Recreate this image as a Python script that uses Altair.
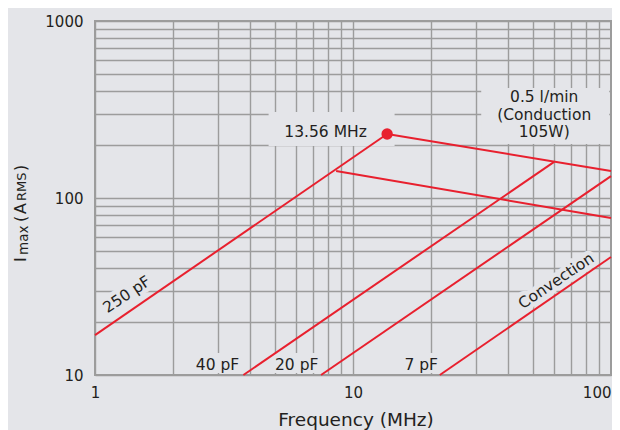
import altair as alt
import pandas as pd

BG = "#e4e5e9"
RED = "#e8202e"
GRID = "#9c9c9c"
TXT = "#231f20"
FONT = "DejaVu Sans"

# ---- data ----
curve_names = ["250 pF", "40 pF", "20 pF", "7 pF", "Conduction upper", "Conduction lower"]
freq_start = [1.0, 3.76, 7.52, 21.7, 13.56, 8.6]
freq_end = [13.56, 60.2, 100.0, 100.0, 100.0, 100.0]
imax_start = [16.8, 10.0, 10.0, 10.0, 230.0, 142.0]
imax_end = [230.0, 160.0, 133.0, 46.4, 142.0, 77.0]

marker_freq = [13.56]
marker_imax = [230.0]

rot_text = ["250 pF", "Convection"]
rot_freq = [1.329, 61.3]
rot_imax = [28.5, 34.0]

flat_text = ["40 pF", "20 pF", "7 pF"]
flat_freq = [2.985, 6.05, 18.39]
flat_imax = [10.67, 10.67, 10.67]

mhz_text = ["13.56 MHz"]
mhz_freq = [7.83]
mhz_imax = [221.0]

cond_text = [["0.5 l/min", "(Conduction", "105W)"]]
cond_freq = [55.1]
cond_imax = [348.6]

freq_ticks = [1, 2, 3, 4, 5, 6, 7, 8, 9, 10, 20, 30, 40, 50, 60, 70, 80, 90, 100]
freq_labels = [1, 10, 100]
imax_ticks = [10, 20, 30, 40, 50, 60, 70, 80, 90, 100, 200, 300, 400, 500, 600,
              700, 800, 900, 1000]
imax_labels = [10, 100, 1000]

# ---- tables ----
curves = pd.DataFrame({"name": curve_names, "f0": freq_start, "f1": freq_end,
                       "i0": imax_start, "i1": imax_end})
marker = pd.DataFrame({"f": marker_freq, "i": marker_imax})
rot = pd.DataFrame({"t": rot_text, "f": rot_freq, "i": rot_imax})
flat = pd.DataFrame({"t": flat_text, "f": flat_freq, "i": flat_imax})
mhz = pd.DataFrame({"t": mhz_text, "f": mhz_freq, "i": mhz_imax})
cond = pd.DataFrame({"t": cond_text, "f": cond_freq, "i": cond_imax})

xs = alt.Scale(type="log", domain=[1, 100], nice=False)
ys = alt.Scale(type="log", domain=[10, 1000], nice=False)

x_lab = " || ".join(f"datum.value == {v}" for v in freq_labels)
y_lab = " || ".join(f"datum.value == {v}" for v in imax_labels)

xaxis = alt.Axis(values=freq_ticks, labelExpr=f"({x_lab}) ? format(datum.value, 'd') : ''",
                 grid=True, gridColor=GRID, gridWidth=1.4, domain=False, ticks=False,
                 tickSize=0, labelPadding=10, labelFont=FONT, labelFontSize=15,
                 labelColor=TXT, labelFlush=False, labelOverlap=False,
                 labelAlign={"expr": "datum.value == 100 ? 'right' : 'center'"},
                 title=None)
yaxis = alt.Axis(values=imax_ticks, labelExpr=f"({y_lab}) ? format(datum.value, 'd') : ''",
                 grid=True, gridColor=GRID, gridWidth=1.4, domain=False, ticks=False,
                 tickSize=0, labelPadding=12, labelFont=FONT, labelFontSize=15,
                 labelColor=TXT, labelFlush=False, labelOverlap=False, title=None)


def X(f="f"):
    return alt.X(f"{f}:Q", scale=xs, axis=xaxis)


def Y(f="i"):
    return alt.Y(f"{f}:Q", scale=ys, axis=yaxis)


# label background boxes
mhz_box = alt.Chart(mhz).mark_rect(color=BG, xOffset=-57, x2Offset=69,
                                   yOffset=-25, y2Offset=9).encode(
    x=X(), x2="f", y=Y(), y2="i")
cond_box = alt.Chart(cond).mark_rect(color=BG, xOffset=-63, x2Offset=65,
                                     yOffset=-14, y2Offset=42).encode(
    x=X(), x2="f", y=Y(), y2="i")
flat_box = alt.Chart(flat).mark_rect(color=BG, xOffset=-27, x2Offset=27,
                                     yOffset=-17, y2Offset=3).encode(
    x=X(), x2="f", y=Y(), y2="i")

halo_rot = alt.Chart(rot).mark_text(font=FONT, fontSize=15.5, angle=326, align="center",
                                    baseline="middle", color=BG, stroke=BG,
                                    strokeWidth=9, strokeJoin="round").encode(
    x=X(), y=Y(), text="t")

rules = alt.Chart(curves).mark_rule(color=RED, strokeWidth=2).encode(
    x=X("f0"), x2="f1", y=Y("i0"), y2="i1")

dot = alt.Chart(marker).mark_circle(color=RED, size=130, opacity=1).encode(x=X(), y=Y())

t_rot = alt.Chart(rot).mark_text(font=FONT, fontSize=15.5, angle=326, align="center",
                                 baseline="middle", color=TXT).encode(x=X(), y=Y(), text="t")
t_flat = alt.Chart(flat).mark_text(font=FONT, fontSize=15.5, align="center",
                                   baseline="alphabetic", color=TXT).encode(x=X(), y=Y(), text="t")
t_mhz = alt.Chart(mhz).mark_text(font=FONT, fontSize=15.5, align="center",
                                 baseline="alphabetic", color=TXT).encode(x=X(), y=Y(), text="t")
t_cond = alt.Chart(cond).mark_text(font=FONT, fontSize=15.5, align="center",
                                   baseline="alphabetic", lineHeight=17.5,
                                   color=TXT).encode(x=X(), y=Y(), text="t")

one = pd.DataFrame({"k": [0]})


def title_part(txt, size, px, py, angle=270, align="left"):
    return alt.Chart(one).mark_text(text=txt, font=FONT, fontSize=size, angle=angle,
                                    align=align, baseline="alphabetic",
                                    color=TXT).encode(x=alt.value(px), y=alt.value(py))


x_title = title_part("Frequency (MHz)", 18.5, 261, 405, angle=0, align="center")
y_parts = [
    title_part("I", 16, -69, 241),
    title_part("max", 13.5, -67.5, 234),
    title_part("(", 16, -69, 201),
    title_part("A", 16, -69, 193),
    title_part("RMS", 13, -69, 180),
    title_part(")", 16, -69, 150),
]

chart = alt.layer(
    mhz_box, cond_box, flat_box, halo_rot, rules, dot,
    t_rot, t_flat, t_mhz, t_cond, x_title, *y_parts
).properties(
    width=516, height=354, background=BG,
    autosize=alt.AutoSizeParams(type="none"),
    padding={"left": 87, "top": 13, "right": 1, "bottom": 55},
).configure_view(stroke=GRID, strokeWidth=2, fill=BG)

chart.save("out.html", embed_options={"renderer": "svg", "actions": False})
